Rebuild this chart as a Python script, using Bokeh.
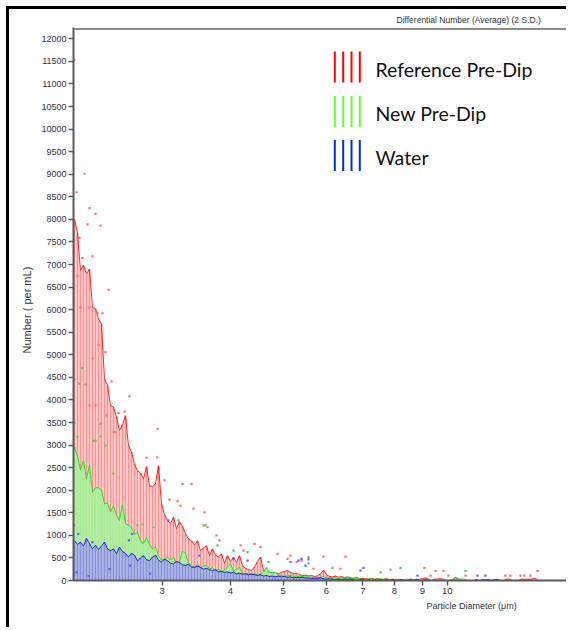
import numpy as np
from bokeh.plotting import figure
from bokeh.models import (FixedTicker, PrintfTickFormatter, Title, Range1d, Span,
                          GlobalInlineStyleSheet)
from bokeh.embed import file_html
from bokeh.resources import INLINE
from bokeh.core.properties import value

# ---------------- data ----------------
# log-spaced size bins (Multisizer style)
N_BINS = 155
BIN_FIRST_UM = 2.071
BIN_LAST_UM = 14.58
diameter_um = np.geomspace(BIN_FIRST_UM, BIN_LAST_UM, N_BINS)

reference_pre_dip = [
    8000, 7700, 6870, 6980, 6790, 6900, 6050, 6020, 5800, 5680,
    4470, 4330, 3880, 3840, 3620, 3320, 3450, 3650, 2980, 2850,
    2580, 2430, 2380, 2250, 2520, 2100, 2080, 2140, 2540, 1700,
    1450, 1330, 1260, 1400, 1150, 1300, 1200, 1030, 920, 880,
    780, 880, 660, 720, 770, 550, 700, 560, 520, 590,
    380, 550, 420, 520, 400, 550, 330, 270, 240, 220,
    300, 420, 520, 230, 200, 180, 160, 170, 150, 180,
    200, 220, 180, 150, 160, 130, 110, 120, 100, 110,
    90, 100, 150, 230, 130, 90, 80, 100, 70, 90,
    60, 80, 60, 50, 70, 40, 50, 40, 30, 50,
    30, 40, 20, 30, 40, 20, 30, 20, 30, 20,
    0, 20, 30, 20, 0, 30, 40, 60, 30, 0,
    30, 30, 40, 30, 0, 0, 20, 70, 30, 0,
    0, 0, 0, 0, 0, 0, 0, 0, 0, 0,
    0, 0, 0, 0, 30, 30, 0, 0, 0, 30,
    30, 30, 30, 40, 40,
]
new_pre_dip = [
    2950, 2750, 2450, 2650, 2250, 2550, 1950, 2050, 2060, 2000,
    1700, 1720, 1520, 1650, 1450, 1330, 1680, 1260, 1230, 1170,
    1020, 1070, 880, 820, 950, 800, 700, 740, 560, 450,
    480, 520, 450, 520, 380, 420, 650, 600, 400, 330,
    300, 360, 280, 320, 340, 260, 280, 220, 250, 200,
    230, 300, 370, 200, 250, 290, 160, 150, 170, 140,
    150, 130, 140, 200, 290, 180, 170, 180, 120, 110,
    130, 100, 120, 90, 100, 80, 90, 70, 100, 60,
    80, 60, 70, 90, 60, 70, 50, 60, 40, 60,
    40, 50, 30, 40, 50, 30, 40, 20, 30, 40,
    20, 30, 40, 20, 30, 20, 0, 30, 20, 0,
    20, 30, 0, 20, 0, 20, 30, 0, 20, 0,
    0, 30, 0, 20, 0, 0, 30, 30, 40, 30,
    30, 0, 0, 0, 0, 0, 0, 0, 0, 0,
    0, 0, 0, 0, 0, 0, 0, 0, 0, 0,
    0, 0, 0, 0, 0,
]
water = [
    880, 800, 850, 760, 930, 820, 700, 780, 690, 760,
    850, 700, 660, 700, 590, 740, 640, 600, 520, 600,
    560, 430, 500, 550, 460, 440, 520, 560, 450, 410,
    470, 440, 380, 370, 420, 400, 350, 330, 360, 300,
    290, 320, 290, 250, 270, 240, 220, 240, 190, 200,
    180, 190, 170, 180, 150, 160, 140, 150, 130, 140,
    130, 110, 130, 100, 110, 90, 100, 80, 100, 80,
    90, 70, 80, 60, 70, 60, 70, 50, 60, 40,
    50, 40, 60, 40, 30, 40, 30, 20, 30, 20,
    30, 20, 30, 20, 0, 20, 30, 0, 20, 0,
    20, 0, 20, 0, 20, 0, 20, 0, 0, 20,
    0, 0, 20, 0, 30, 0, 0, 20, 0, 0,
    0, 0, 0, 0, 0, 0, 0, 0, 0, 0,
    0, 0, 0, 0, 20, 0, 20, 20, 20, 0,
    20, 20, 0, 0, 0, 0, 0, 0, 0, 0,
    0, 0, 0, 0, 0,
]

# 2 S.D. markers
red_sd_um = [2.069, 2.161, 2.088, 2.207, 2.263, 2.188, 2.312, 2.115, 2.142, 2.235,
             2.391, 2.097, 2.124, 2.207, 2.283, 2.331, 2.292, 2.361, 2.235, 2.422,
             2.071, 2.170, 2.613, 2.207, 2.263, 2.371, 2.494, 2.558, 2.442, 2.463,
             2.941, 2.312, 2.807, 2.937, 3.029, 3.269, 3.395, 3.094, 3.200, 3.241,
             3.424, 3.587, 3.602, 3.773, 3.821, 4.177, 4.230, 4.431, 4.545, 4.882,
             5.158, 5.403, 5.565, 5.093, 5.290, 5.929, 6.507, 5.684, 6.371, 7.869,
             9.083, 9.515, 9.843, 14.64, 9.317, 10.05, 10.80, 12.78, 13.05, 13.62,
             13.85, 14.20]
red_sd_val = [11520, 9010, 8600, 8250, 8120, 7890, 7860, 7590, 7140, 7180,
              6440, 6750, 6050, 6050, 5920, 5920, 5220, 5060, 4920, 4410,
              4460, 4340, 4080, 3880, 3880, 3660, 3710, 3740, 3290, 3290,
              3360, 3470, 2720, 2730, 2220, 2140, 2140, 1790, 1760, 1660,
              1590, 1510, 1220, 1000, 890, 780, 660, 810, 740, 590,
              550, 440, 520, 480, 410, 530, 530, 260, 260, 240,
              280, 210, 210, 210, 110, 110, 110, 110, 110, 110,
              110, 110]
green_sd_um = [2.140, 2.115, 2.071, 2.097, 2.312, 2.263, 2.361, 2.071, 2.244, 2.440,
               2.702, 2.760, 2.891, 3.214, 3.572, 3.633, 3.789, 4.055, 4.302, 4.701,
               5.565, 6.159, 8.208, 10.80, 7.544]
green_sd_val = [4710, 4360, 3490, 3190, 3190, 3090, 2990, 2940, 3100, 2370,
                1220, 1240, 1180, 1330, 1220, 1180, 780, 660, 630, 410,
                380, 280, 280, 210, 180]
blue_sd_um = [2.066, 2.105, 2.607, 2.643, 3.078, 3.511, 4.055, 4.302, 5.158, 5.403,
              5.335, 5.565, 5.495, 7.021, 6.932, 8.818, 11.36, 11.75, 2.090, 2.200,
              2.400, 2.620, 2.850, 2.235]
blue_sd_val = [1220, 1030, 890, 1030, 1330, 550, 480, 440, 410, 480,
               440, 470, 330, 280, 220, 110, 110, 110, 180, 100,
               250, 330, 150, 850]

series_names = ["Reference Pre-Dip", "New Pre-Dip", "Water"]
y_ticks = list(range(0, 12001, 500))
x_ticks = [3, 4, 5, 6, 7, 8, 9, 10]

# ---------------- layout ----------------
X_RANGE = (2.0626, 16.76)
Y_RANGE = (0, 12250)
PAGE_FRAME_LEFT, PAGE_FRAME_RIGHT = 73, 569
PAGE_FRAME_TOP, PAGE_FRAME_BOTTOM = 27, 580


def px_to_x(px):
    lg0, lg1 = np.log10(X_RANGE[0]), np.log10(X_RANGE[1])
    f = (px - PAGE_FRAME_LEFT) / (PAGE_FRAME_RIGHT - PAGE_FRAME_LEFT)
    return 10 ** (lg0 + f * (lg1 - lg0))


def py_to_y(py):
    return Y_RANGE[1] * (PAGE_FRAME_BOTTOM - py) / (PAGE_FRAME_BOTTOM - PAGE_FRAME_TOP)


p = figure(width=560, height=621, x_axis_type="log",
           x_range=Range1d(*X_RANGE), y_range=Range1d(*Y_RANGE),
           output_backend="svg", toolbar_location=None,
           min_border_left=64, min_border_right=0,
           min_border_top=18, min_border_bottom=50)
p.styles = {"margin-left": "6px", "margin-top": "6px",
            "border-left": "3px solid #000", "border-top": "3px solid #000"}
p.stylesheets = [GlobalInlineStyleSheet(
    css="html, body { margin: 0; padding: 0; overflow: hidden; }")]
p.background_fill_color = "white"
p.border_fill_color = "white"
p.outline_line_color = None
p.xgrid.grid_line_color = None
p.ygrid.grid_line_color = None

# top edge of the plot box (right edge is cut off in the original)
p.add_layout(Span(location=py_to_y(28.5), dimension="width",
                  line_color="#8c8c8c", line_width=2))

TICK_FONT = "Liberation Sans"
for ax in (p.xaxis[0], p.yaxis[0]):
    ax.axis_line_color = "#5a5a5a"
    ax.axis_line_width = 2
    ax.major_tick_line_color = "#5a5a5a"
    ax.major_tick_line_width = 1.5
    ax.major_tick_in = 0
    ax.major_tick_out = 5
    ax.minor_tick_line_color = None
    ax.major_label_text_font = TICK_FONT
    ax.major_label_text_font_size = "9px"
    ax.major_label_text_color = "#333340"
    ax.major_label_standoff = 2

p.yaxis.ticker = FixedTicker(ticks=y_ticks)
p.xaxis.ticker = FixedTicker(ticks=x_ticks, minor_ticks=[])
p.xaxis.formatter = PrintfTickFormatter(format="%d")
p.xaxis.major_label_text_font_size = "9.5px"

p.yaxis.axis_label = "Number ( per mL)\u00a0\u00a0\u00a0\u00a0"
p.yaxis.axis_label_text_font = TICK_FONT
p.yaxis.axis_label_text_font_size = "11px"
p.yaxis.axis_label_text_font_style = "normal"
p.yaxis.axis_label_text_color = "#333340"
p.yaxis.axis_label_standoff = 5

top_title = Title(text="Differential Number (Average) (2 S.D.)", align="left",
                  offset=323, text_font=TICK_FONT, text_font_size="8.5px",
                  text_font_style="normal", text_color="#333333", standoff=5)
p.add_layout(top_title, "above")
x_title = Title(text="Particle Diameter (\u03bcm)", align="left", offset=353,
                text_font=TICK_FONT, text_font_size="9px", text_font_style="normal",
                text_color="#333340", standoff=5)
p.add_layout(x_title, "below")

# ---------------- series ----------------
zeros = [0] * N_BINS
styles = [
    (reference_pre_dip, "#ff9090", "#ff1010"),
    (new_pre_dip, "#88ff88", "#18dd18"),
    (water, "#8a8aff", "#0a0aee"),
]
for vals, bar_c, line_c in styles:
    p.segment(x0=diameter_um, y0=zeros, x1=diameter_um, y1=vals,
              line_color=bar_c, line_width=2.0)
    p.line(diameter_um, vals, line_color=line_c, line_width=1.0, line_alpha=0.9)

for xs, ys, c in [(red_sd_um, red_sd_val, "#ff7070"),
                  (green_sd_um, green_sd_val, "#50cc50"),
                  (blue_sd_um, blue_sd_val, "#6060ff")]:
    p.scatter(xs, ys, marker="square", size=2.2, fill_color=c, line_color=None)

# ---------------- legend (drawn) ----------------
legend_colors = ["#ff0000", "#66ff33", "#0033cc"]
legend_line_px = [334.3, 342.7, 351.0, 359.3]
legend_row_py = [66.5, 111.0, 155.0]
legend_text_py = [68.5, 113.0, 156.5]
for name, col, rpy, tpy in zip(series_names, legend_colors, legend_row_py, legend_text_py):
    xs = [px_to_x(v) for v in legend_line_px]
    p.segment(x0=xs, x1=xs, y0=[py_to_y(rpy + 15.5)] * 4, y1=[py_to_y(rpy - 15.5)] * 4,
              line_color=col, line_width=2)
    p.text(x=[px_to_x(375)], y=[py_to_y(tpy)], text=[name],
           text_font=value("Lato"), text_font_size="19.5px",
           text_baseline="middle", text_align="left", text_color="#111111")

open("out.html", "w").write(file_html(p, INLINE))
